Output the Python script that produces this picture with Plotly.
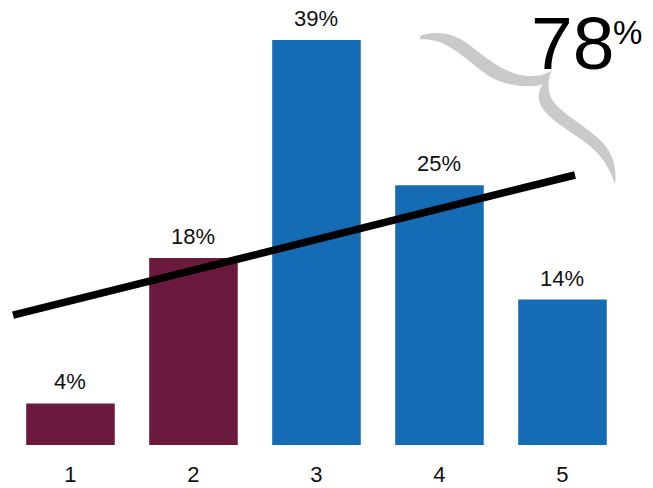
import plotly.graph_objects as go

# ---- data ----
categories = [1, 2, 3, 4, 5]
values = [4, 18, 39, 25, 14]
value_labels = ["4%", "18%", "39%", "25%", "14%"]
trend_x = [0.533, 5.102]
trend_y = [12.5, 26.0]
total_label = "78"

# ---- styles ----
MAROON = "#6B1A3D"
BLUE = "#166BB5"
bar_colors = [MAROON, MAROON, BLUE, BLUE, BLUE]
FONT = "Liberation Sans, Arial, sans-serif"

W, H = 653, 488
BOTTOM = 43  # px under the baseline

fig = go.Figure()
fig.add_trace(go.Bar(
    x=categories, y=values, marker=dict(color=bar_colors, line=dict(width=0)),
    width=0.72, hoverinfo="skip", showlegend=False,
))
fig.add_trace(go.Scatter(
    x=trend_x, y=trend_y, mode="lines",
    line=dict(color="black", width=7.5), hoverinfo="skip", showlegend=False,
))

annotations = []
for c, v, t in zip(categories, values, value_labels):
    annotations.append(dict(
        x=c, y=v, xref="x", yref="y", text=t, showarrow=False,
        yanchor="bottom", yshift=7, font=dict(family=FONT, size=22, color="#111111"),
    ))

# overlay pixel-space axes for the decorative brace and headline number
annotations.append(dict(
    x=572, y=47, xref="x2", yref="y2", text=total_label, showarrow=False,
    xanchor="center", yanchor="middle", font=dict(family=FONT, size=75, color="black"),
))
annotations.append(dict(
    x=627, y=36, xref="x2", yref="y2", text="%", showarrow=False,
    xanchor="center", yanchor="middle", font=dict(family=FONT, size=33, color="black"),
))

brace = ("M 420,39 C 440,33 455,37 470,50 C 490,67 505,80 525,83 C 538,84 546,82 552,77 "
         "C 547,88 546,105 558,117 C 571,131 591,142 604,158 C 613,170 617,185 615,202 "
         "C 611,188 603,169 580,152 C 560,137 542,125 539,110 C 538,102 540,96 543,92 "
         "C 535,96 515,96 497,88 C 481,80 467,63 449,51 C 440,45 430,43 420,43 Z")

fig.update_layout(
    width=W, height=H,
    margin=dict(l=0, r=0, t=0, b=0, autoexpand=False),
    paper_bgcolor="white", plot_bgcolor="white",
    bargap=0.28,
    xaxis=dict(
        domain=[0, 1], range=[0.427, 5.736], tickmode="array",
        tickvals=categories, ticktext=[str(c) for c in categories],
        showgrid=False, zeroline=False, showline=False, ticks="",
        ticklabelstandoff=14, automargin=False,
        tickfont=dict(family=FONT, size=22, color="#111111"),
    ),
    yaxis=dict(
        domain=[BOTTOM / H, 1], range=[0, 42.85], visible=False,
        showgrid=False, zeroline=False, automargin=False,
    ),
    xaxis2=dict(domain=[0, 1], range=[0, W], overlaying="x", visible=False,
                anchor="y2", automargin=False),
    yaxis2=dict(domain=[0, 1], range=[H, 0], overlaying="y", visible=False,
                anchor="x2", automargin=False),
    shapes=[dict(type="path", path=brace, xref="x2", yref="y2",
                 fillcolor="#CACACA", line=dict(width=0), layer="below")],
    annotations=annotations,
)

fig.write_html(
    "out.html",
    config={"displayModeBar": False},
    post_script="document.body.style.margin='0';document.body.style.overflow='hidden';",
)
